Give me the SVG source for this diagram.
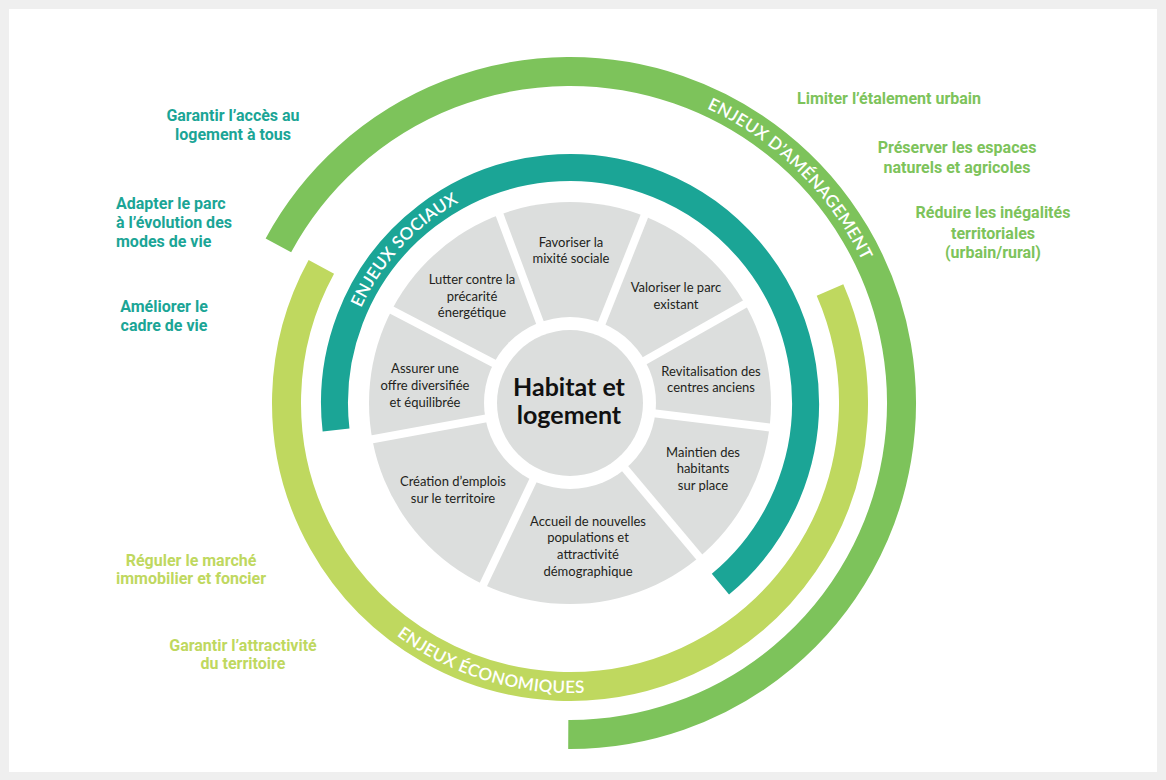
<svg xmlns="http://www.w3.org/2000/svg" width="1166" height="780" viewBox="0 0 1166 780">
<style>
.band{fill:none;stroke-linecap:butt}
.arclbl{font-family:Lato,"Open Sans",sans-serif;font-weight:600;font-size:17px;fill:#ffffff;letter-spacing:0.3px}
.seg{font-family:Lato,"Open Sans",sans-serif;font-size:13px;fill:#231f20;text-anchor:middle}
.side{font-family:Roboto,"Liberation Sans",sans-serif;font-weight:700;font-size:16px}
.teal{fill:#1ba596}
.dgreen{fill:#7dc35b}
.lgreen{fill:#bfd85f}
.gap{stroke:#ffffff;stroke-width:8}
</style>
<defs>
<path id="pSoc" d="M342.34,431.96 A229.5,229.5 0 0 1 581.01,173.76"/>
<path id="pAme" d="M538.85,79.5 A325,325 0 0 1 894,428.5"/>
<path id="pEco" d="M303.25,516.78 A290,290 0 0 0 728.37,645.94"/>
</defs>
<rect x="0" y="0" width="1166" height="780" fill="#efefef"/>
<rect x="9" y="9" width="1148" height="763" fill="#ffffff"/>

<g id="connectors">
<path id="arc-amenagement" class="band" d="M278.4,245.33 A331.5,331.5 0 1 1 568.26,734.5" stroke="#7dc35b" stroke-width="29"/>
<path id="arc-economiques" class="band" d="M830,289.95 A283.5,283.5 0 1 1 321.33,266.86" stroke="#bfd85f" stroke-width="29"/>
<path id="arc-sociaux" class="band" d="M336.06,430.07 A235.5,235.5 0 1 1 720.43,584.19" stroke="#1ba596" stroke-width="27"/>
</g>

<g id="arc-labels">
<text class="arclbl"><textPath href="#pSoc" startOffset="50%" text-anchor="middle">ENJEUX SOCIAUX</textPath></text>
<text class="arclbl"><textPath href="#pAme" startOffset="50%" text-anchor="middle">ENJEUX D’AMÉNAGEMENT</textPath></text>
<text class="arclbl"><textPath href="#pEco" startOffset="50%" text-anchor="middle">ENJEUX ÉCONOMIQUES</textPath></text>
</g>

<g id="wheel">
<circle cx="570" cy="403" r="201" fill="#dcdedd"/>
<g id="gaps">
<line class="gap" x1="570" y1="403" x2="498.2" y2="211.0"/>
<line class="gap" x1="570" y1="403" x2="645.8" y2="212.5"/>
<line class="gap" x1="570" y1="403" x2="748.4" y2="302.1"/>
<line class="gap" x1="570" y1="403" x2="773.5" y2="428.0"/>
<line class="gap" x1="570" y1="403" x2="701.8" y2="560.0"/>
<line class="gap" x1="570" y1="403" x2="481.7" y2="588.0"/>
<line class="gap" x1="570" y1="403" x2="368.4" y2="440.0"/>
<line class="gap" x1="570" y1="403" x2="388.2" y2="308.3"/>
</g>
<circle cx="570" cy="403" r="86" fill="#ffffff"/>
</g>

<g id="center">
<circle cx="570" cy="403" r="73" fill="#dcdedd"/>
<text x="569" y="396" font-family="Lato,'Open Sans',sans-serif" font-weight="700" font-size="25" fill="#111111" text-anchor="middle">Habitat et</text>
<text x="569" y="424" font-family="Lato,'Open Sans',sans-serif" font-weight="700" font-size="25" fill="#111111" text-anchor="middle">logement</text>
</g>

<g id="seg-mixite"><text class="seg" x="571" y="247">Favoriser la</text><text class="seg" x="571" y="263">mixité sociale</text></g>
<g id="seg-parc"><text class="seg" x="676" y="292">Valoriser le parc</text><text class="seg" x="676" y="308.5">existant</text></g>
<g id="seg-revit"><text class="seg" x="711" y="375.5">Revitalisation des</text><text class="seg" x="711" y="392">centres anciens</text></g>
<g id="seg-maintien"><text class="seg" x="703" y="456.5">Maintien des</text><text class="seg" x="703" y="473">habitants</text><text class="seg" x="703" y="490">sur place</text></g>
<g id="seg-accueil"><text class="seg" x="588" y="525.5">Accueil de nouvelles</text><text class="seg" x="588" y="542">populations et</text><text class="seg" x="588" y="559">attractivité</text><text class="seg" x="588" y="575.5">démographique</text></g>
<g id="seg-emplois"><text class="seg" x="453" y="486">Création d’emplois</text><text class="seg" x="453" y="503">sur le territoire</text></g>
<g id="seg-offre"><text class="seg" x="425" y="373">Assurer une</text><text class="seg" x="425" y="390">offre diversifiée</text><text class="seg" x="425" y="406.5">et équilibrée</text></g>
<g id="seg-precarite"><text class="seg" x="472" y="284">Lutter contre la</text><text class="seg" x="472" y="300.5">précarité</text><text class="seg" x="472" y="317">énergétique</text></g>

<g id="lbl-acces" class="side teal" text-anchor="middle"><text x="233" y="121">Garantir l’accès au</text><text x="233" y="140">logement à tous</text></g>
<g id="lbl-adapter" class="side teal"><text x="116" y="209">Adapter le parc</text><text x="116" y="228">à l’évolution des</text><text x="116" y="247">modes de vie</text></g>
<g id="lbl-cadre" class="side teal" text-anchor="middle"><text x="164" y="312">Améliorer le</text><text x="164" y="331">cadre de vie</text></g>

<g id="lbl-etalement" class="side dgreen"><text x="797" y="104">Limiter l’étalement urbain</text></g>
<g id="lbl-espaces" class="side dgreen" text-anchor="middle"><text x="957" y="153">Préserver les espaces</text><text x="957" y="173">naturels et agricoles</text></g>
<g id="lbl-inegalites" class="side dgreen" text-anchor="middle"><text x="993" y="218">Réduire les inégalités</text><text x="993" y="238.5">territoriales</text><text x="993" y="258">(urbain/rural)</text></g>

<g id="lbl-marche" class="side lgreen" text-anchor="middle"><text x="191" y="565.5">Réguler le marché</text><text x="191" y="584">immobilier et foncier</text></g>
<g id="lbl-attractivite" class="side lgreen" text-anchor="middle"><text x="243" y="651">Garantir l’attractivité</text><text x="243" y="668.5">du territoire</text></g>
</svg>
